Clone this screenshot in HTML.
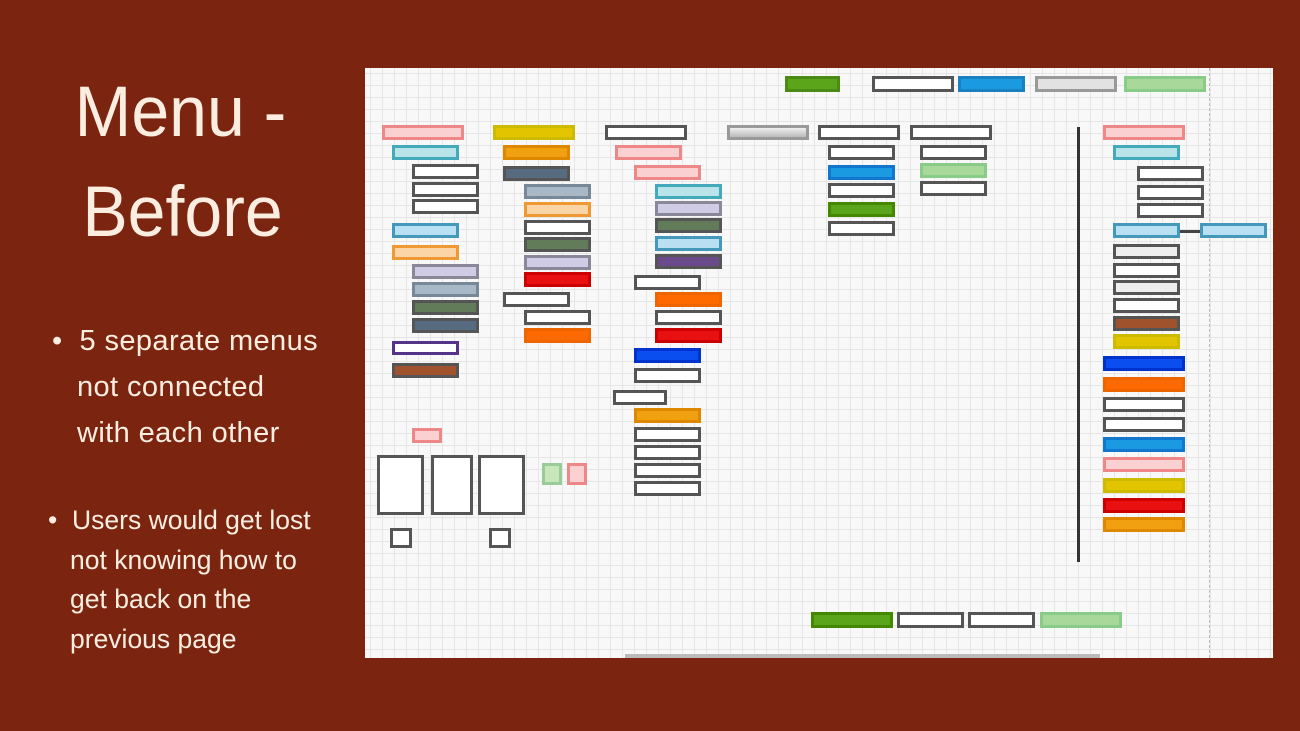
<!DOCTYPE html>
<html><head><meta charset="utf-8"><style>
body{margin:0;width:1300px;height:731px;background:#7b2511;overflow:hidden;position:relative;font-family:"Liberation Sans",sans-serif;color:#fbeee0}
.t{position:absolute;left:50px;width:265px;text-align:center;font-size:68px;line-height:68px;transform:scaleY(1.05)}
.b{position:absolute;font-size:29px;line-height:46px;letter-spacing:0.4px}
.b2{position:absolute;font-size:26.5px;line-height:39.5px}
#d{position:absolute;left:365px;top:68px;width:908px;height:590px;background-color:#f8f8f8;
background-image:linear-gradient(#e6e6e6 1px,transparent 1px),linear-gradient(90deg,#e6e6e6 1px,transparent 1px);background-size:12px 12px;background-position:5px 5px}
#d div{position:absolute;box-sizing:border-box;border:3px solid #555}
.w{background:#fff}
</style></head><body>
<div class="t" style="top:78px;left:48px">Menu -</div>
<div class="t" style="top:178px">Before</div>
<div class="b" style="left:52px;top:318px">•&nbsp; 5 separate menus<br><span style="padding-left:25px">not connected</span><br><span style="padding-left:25px">with each other</span></div>
<div class="b2" style="left:48px;top:501px">•&nbsp; Users would get lost<br><span style="padding-left:22px">not knowing how to</span><br><span style="padding-left:22px">get back on the</span><br><span style="padding-left:22px">previous page</span></div>
<div id="d">
<div style="left:420px;top:8px;width:55px;height:16px;background:#5aa51a;border-color:#4a8a15"></div>
<div class="w" style="left:507px;top:8px;width:82px;height:16px"></div>
<div style="left:593px;top:8px;width:67px;height:16px;background:#1a9ae0;border-color:#1a80c0"></div>
<div style="left:670px;top:8px;width:82px;height:16px;background:#e2e2e2;border-color:#999"></div>
<div style="left:759px;top:8px;width:82px;height:16px;background:#a8d89a;border-color:#8c8"></div>
<div style="left:844px;top:0;width:0;height:590px;border:none;border-left:1px dashed #bbb"></div>
<div style="left:712px;top:59px;width:3px;height:435px;border:none;background:#333"></div>
<div style="left:815px;top:162px;width:22px;height:3px;border:none;background:#444"></div>
<div style="left:260px;top:586px;width:475px;height:4px;border:none;background:#bbb"></div>
<div style="left:17px;top:57px;width:82px;height:15px;background:#fad0d0;border-color:#e88"></div>
<div style="left:27px;top:77px;width:67px;height:15px;background:#b8e4ea;border-color:#4ab"></div>
<div class="w" style="left:47px;top:96px;width:67px;height:15px"></div>
<div class="w" style="left:47px;top:114px;width:67px;height:15px"></div>
<div class="w" style="left:47px;top:131px;width:67px;height:15px"></div>
<div style="left:27px;top:155px;width:67px;height:15px;background:#b8e0f2;border-color:#49b"></div>
<div style="left:27px;top:177px;width:67px;height:15px;background:#fbd5a5;border-color:#e93"></div>
<div style="left:47px;top:196px;width:67px;height:15px;background:#d0cce6;border-color:#889"></div>
<div style="left:47px;top:214px;width:67px;height:15px;background:#a9b8c6;border-color:#789"></div>
<div style="left:47px;top:232px;width:67px;height:15px;background:#627c5a"></div>
<div style="left:47px;top:250px;width:67px;height:15px;background:#566b80"></div>
<div class="w" style="left:27px;top:273px;width:67px;height:14px;border-color:#538"></div>
<div style="left:27px;top:295px;width:67px;height:15px;background:#a0522d"></div>
<div style="left:47px;top:360px;width:30px;height:15px;background:#fad0d0;border-color:#e88"></div>
<div class="w" style="left:12px;top:387px;width:47px;height:60px"></div>
<div class="w" style="left:66px;top:387px;width:42px;height:60px"></div>
<div class="w" style="left:113px;top:387px;width:47px;height:60px"></div>
<div style="left:177px;top:395px;width:20px;height:22px;background:#c8e6b8;border-color:#9c9"></div>
<div style="left:202px;top:395px;width:20px;height:22px;background:#fad0d0;border-color:#e88"></div>
<div class="w" style="left:25px;top:460px;width:22px;height:20px"></div>
<div class="w" style="left:124px;top:460px;width:22px;height:20px"></div>
<div style="left:128px;top:57px;width:82px;height:15px;background:#e3c400;border-color:#cb0"></div>
<div style="left:138px;top:77px;width:67px;height:15px;background:#f0a010;border-color:#d80"></div>
<div style="left:138px;top:98px;width:67px;height:15px;background:#566b80"></div>
<div style="left:159px;top:116px;width:67px;height:15px;background:#a9b8c6;border-color:#789"></div>
<div style="left:159px;top:134px;width:67px;height:15px;background:#fbd5a5;border-color:#e93"></div>
<div class="w" style="left:159px;top:152px;width:67px;height:15px"></div>
<div style="left:159px;top:169px;width:67px;height:15px;background:#627c5a"></div>
<div style="left:159px;top:187px;width:67px;height:15px;background:#d0cce6;border-color:#889"></div>
<div style="left:159px;top:204px;width:67px;height:15px;background:#e81010;border-color:#c00"></div>
<div class="w" style="left:138px;top:224px;width:67px;height:15px"></div>
<div class="w" style="left:159px;top:242px;width:67px;height:15px"></div>
<div style="left:159px;top:260px;width:67px;height:15px;background:#ff6a00;border-color:#e60"></div>
<div class="w" style="left:240px;top:57px;width:82px;height:15px"></div>
<div style="left:250px;top:77px;width:67px;height:15px;background:#fad0d0;border-color:#e88"></div>
<div style="left:269px;top:97px;width:67px;height:15px;background:#fad0d0;border-color:#e88"></div>
<div style="left:290px;top:116px;width:67px;height:15px;background:#b8e4ea;border-color:#4ab"></div>
<div style="left:290px;top:133px;width:67px;height:15px;background:#d0cce6;border-color:#889"></div>
<div style="left:290px;top:150px;width:67px;height:15px;background:#627c5a"></div>
<div style="left:290px;top:168px;width:67px;height:15px;background:#b8e0f2;border-color:#49b"></div>
<div style="left:290px;top:186px;width:67px;height:15px;background:#6a4a8a"></div>
<div class="w" style="left:269px;top:207px;width:67px;height:15px"></div>
<div style="left:290px;top:224px;width:67px;height:15px;background:#ff6a00;border-color:#e60"></div>
<div class="w" style="left:290px;top:242px;width:67px;height:15px"></div>
<div style="left:290px;top:260px;width:67px;height:15px;background:#e81010;border-color:#c00"></div>
<div style="left:269px;top:280px;width:67px;height:15px;background:#0a4ef0;border-color:#03c"></div>
<div class="w" style="left:269px;top:300px;width:67px;height:15px"></div>
<div class="w" style="left:248px;top:322px;width:54px;height:15px"></div>
<div style="left:269px;top:340px;width:67px;height:15px;background:#f0a010;border-color:#d80"></div>
<div class="w" style="left:269px;top:359px;width:67px;height:15px"></div>
<div class="w" style="left:269px;top:377px;width:67px;height:15px"></div>
<div class="w" style="left:269px;top:395px;width:67px;height:15px"></div>
<div class="w" style="left:269px;top:413px;width:67px;height:15px"></div>
<div style="left:362px;top:57px;width:82px;height:15px;background:linear-gradient(#eee,#bbb);border-color:#999"></div>
<div class="w" style="left:453px;top:57px;width:82px;height:15px"></div>
<div class="w" style="left:463px;top:77px;width:67px;height:15px"></div>
<div style="left:463px;top:97px;width:67px;height:15px;background:#1a9ae0;border-color:#17c"></div>
<div class="w" style="left:463px;top:115px;width:67px;height:15px"></div>
<div style="left:463px;top:134px;width:67px;height:15px;background:#5aa51a;border-color:#480"></div>
<div class="w" style="left:463px;top:153px;width:67px;height:15px"></div>
<div class="w" style="left:545px;top:57px;width:82px;height:15px"></div>
<div class="w" style="left:555px;top:77px;width:67px;height:15px"></div>
<div style="left:555px;top:95px;width:67px;height:15px;background:#a8d89a;border-color:#8c8"></div>
<div class="w" style="left:555px;top:113px;width:67px;height:15px"></div>
<div style="left:738px;top:57px;width:82px;height:15px;background:#fad0d0;border-color:#e88"></div>
<div style="left:748px;top:77px;width:67px;height:15px;background:#b8e4ea;border-color:#4ab"></div>
<div class="w" style="left:772px;top:98px;width:67px;height:15px"></div>
<div class="w" style="left:772px;top:117px;width:67px;height:15px"></div>
<div class="w" style="left:772px;top:135px;width:67px;height:15px"></div>
<div style="left:748px;top:155px;width:67px;height:15px;background:#b8e0f2;border-color:#49b"></div>
<div style="left:835px;top:155px;width:67px;height:15px;background:#b8e0f2;border-color:#49b"></div>
<div style="left:748px;top:176px;width:67px;height:15px;background:#eee"></div>
<div class="w" style="left:748px;top:195px;width:67px;height:15px"></div>
<div style="left:748px;top:212px;width:67px;height:15px;background:#eee"></div>
<div class="w" style="left:748px;top:230px;width:67px;height:15px"></div>
<div style="left:748px;top:248px;width:67px;height:15px;background:#a0522d"></div>
<div style="left:748px;top:266px;width:67px;height:15px;background:#e3c400;border-color:#cb0"></div>
<div style="left:738px;top:288px;width:82px;height:15px;background:#0a4ef0;border-color:#03c"></div>
<div style="left:738px;top:309px;width:82px;height:15px;background:#ff6a00;border-color:#e60"></div>
<div class="w" style="left:738px;top:329px;width:82px;height:15px"></div>
<div class="w" style="left:738px;top:349px;width:82px;height:15px"></div>
<div style="left:738px;top:369px;width:82px;height:15px;background:#1a9ae0;border-color:#17c"></div>
<div style="left:738px;top:389px;width:82px;height:15px;background:#fad0d0;border-color:#e88"></div>
<div style="left:738px;top:410px;width:82px;height:15px;background:#e3c400;border-color:#cb0"></div>
<div style="left:738px;top:430px;width:82px;height:15px;background:#e81010;border-color:#c00"></div>
<div style="left:738px;top:449px;width:82px;height:15px;background:#f0a010;border-color:#d80"></div>
<div style="left:446px;top:544px;width:82px;height:16px;background:#5aa51a;border-color:#480"></div>
<div class="w" style="left:532px;top:544px;width:67px;height:16px"></div>
<div class="w" style="left:603px;top:544px;width:67px;height:16px"></div>
<div style="left:675px;top:544px;width:82px;height:16px;background:#a8d89a;border-color:#8c8"></div>
</div>
</body></html>
